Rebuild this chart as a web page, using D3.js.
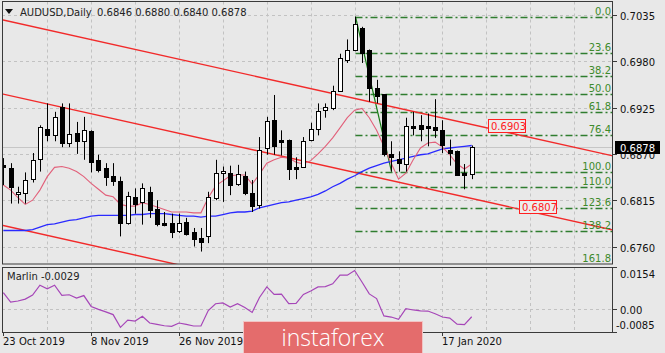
<!DOCTYPE html>
<html><head><meta charset="utf-8">
<script src="https://cdn.jsdelivr.net/npm/d3@7"></script>
<style>
html,body{margin:0;padding:0;background:#e8e8e8;}
svg{display:block;font-family:"DejaVu Sans",sans-serif;}
</style></head><body>
<svg id="c" width="665" height="353"></svg>
<script>
const dates = ["2019-10-23","2019-10-24","2019-10-25","2019-10-28","2019-10-29","2019-10-30","2019-10-31","2019-11-01","2019-11-04","2019-11-05","2019-11-06","2019-11-07","2019-11-08","2019-11-11","2019-11-12","2019-11-13","2019-11-14","2019-11-15","2019-11-18","2019-11-19","2019-11-20","2019-11-21","2019-11-22","2019-11-25","2019-11-26","2019-11-27","2019-11-28","2019-11-29","2019-12-02","2019-12-03","2019-12-04","2019-12-05","2019-12-06","2019-12-09","2019-12-10","2019-12-11","2019-12-12","2019-12-13","2019-12-16","2019-12-17","2019-12-18","2019-12-19","2019-12-20","2019-12-23","2019-12-24","2019-12-26","2019-12-27","2019-12-30","2019-12-31","2020-01-02","2020-01-03","2020-01-06","2020-01-07","2020-01-08","2020-01-09","2020-01-10","2020-01-13","2020-01-14","2020-01-15","2020-01-16","2020-01-17","2020-01-20","2020-01-21","2020-01-22","2020-01-23"];
const open  = [0.6857,0.6853,0.6822,0.6824,0.6840,0.6864,0.6900,0.6892,0.6926,0.6883,0.6895,0.6885,0.6897,0.6863,0.6853,0.6844,0.6838,0.6788,0.6819,0.6813,0.6825,0.6805,0.6788,0.6788,0.6778,0.6789,0.6777,0.6770,0.6772,0.6818,0.6847,0.6847,0.6834,0.6844,0.6824,0.6809,0.6877,0.6910,0.6887,0.6886,0.6854,0.6855,0.6887,0.6899,0.6922,0.6924,0.6945,0.6982,0.6993,0.7020,0.6993,0.6948,0.6941,0.6870,0.6864,0.6858,0.6903,0.6904,0.6903,0.6902,0.6898,0.6875,0.6873,0.6847,0.6846];
const high  = [0.6865,0.6859,0.6831,0.6848,0.6871,0.6904,0.6930,0.6920,0.6930,0.6930,0.6908,0.6914,0.6898,0.6869,0.6859,0.6859,0.6843,0.6825,0.6829,0.6835,0.6831,0.6815,0.6801,0.6799,0.6799,0.6794,0.6782,0.6782,0.6825,0.6863,0.6855,0.6856,0.6857,0.6849,0.6839,0.6890,0.6914,0.6940,0.6898,0.6887,0.6866,0.6890,0.6907,0.6930,0.6930,0.6951,0.6989,0.7006,0.7033,0.7021,0.6994,0.6958,0.6941,0.6885,0.6873,0.6913,0.6920,0.6916,0.6918,0.6935,0.6910,0.6887,0.6874,0.6858,0.6880];
const low   = [0.6833,0.6811,0.6811,0.6811,0.6836,0.6849,0.6885,0.6885,0.6878,0.6878,0.6870,0.6863,0.6848,0.6848,0.6832,0.6832,0.6772,0.6786,0.6799,0.6786,0.6794,0.6784,0.6784,0.6770,0.6776,0.6773,0.6760,0.6754,0.6764,0.6815,0.6813,0.6821,0.6832,0.6821,0.6801,0.6805,0.6869,0.6869,0.6868,0.6839,0.6840,0.6854,0.6885,0.6892,0.6913,0.6922,0.6944,0.6978,0.6992,0.6978,0.6932,0.6930,0.6867,0.6849,0.6849,0.6849,0.6892,0.6885,0.6879,0.6889,0.6871,0.6856,0.6844,0.6828,0.6840];
const close = [0.6854,0.6831,0.6825,0.6839,0.6863,0.6902,0.6892,0.6914,0.6883,0.6894,0.6885,0.6898,0.6860,0.6851,0.6842,0.6838,0.6788,0.6820,0.6811,0.6829,0.6803,0.6787,0.6786,0.6777,0.6788,0.6775,0.6769,0.6765,0.6819,0.6847,0.6850,0.6833,0.6846,0.6823,0.6808,0.6875,0.6909,0.6879,0.6884,0.6852,0.6852,0.6885,0.6900,0.6921,0.6926,0.6945,0.6984,0.6993,0.7024,0.6990,0.6948,0.6939,0.6870,0.6866,0.6859,0.6903,0.6901,0.6900,0.6901,0.6898,0.6881,0.6871,0.6845,0.6845,0.6878];
const maSlow = [0.6779,0.6779,0.6779,0.6779,0.6780,0.6783,0.6786,0.6787,0.6789,0.6791,0.6792,0.6794,0.6796,0.6797,0.6797,0.6797,0.6797,0.6797,0.6798,0.6798,0.6799,0.6799,0.6799,0.6798,0.6797,0.6796,0.6796,0.6795,0.6796,0.6796,0.6798,0.6800,0.6801,0.6801,0.6802,0.6806,0.6808,0.6810,0.6812,0.6813,0.6815,0.6817,0.6819,0.6822,0.6826,0.6831,0.6835,0.6840,0.6844,0.6849,0.6853,0.6856,0.6859,0.6861,0.6863,0.6865,0.6867,0.6869,0.6870,0.6873,0.6876,0.6877,0.6878,0.6879,0.6880];
const maFast = [0.6833,0.6827,0.6818,0.6810,0.6815,0.6827,0.6843,0.6854,0.6855,0.6853,0.6849,0.6843,0.6835,0.6828,0.6821,0.6819,0.6810,0.6808,0.6808,0.6812,0.6810,0.6807,0.6804,0.6801,0.6801,0.6801,0.6800,0.6800,0.6818,0.6832,0.6838,0.6844,0.6845,0.6845,0.6834,0.6846,0.6859,0.6863,0.6866,0.6865,0.6860,0.6858,0.6862,0.6870,0.6879,0.6889,0.6901,0.6913,0.6922,0.6924,0.6913,0.6898,0.6879,0.6859,0.6840,0.6847,0.6863,0.6877,0.6883,0.6884,0.6878,0.6869,0.6858,0.6852,0.6858];
const marlin = [0.0060,0.0025,0.0029,0.0036,0.0051,0.0087,0.0074,0.0087,0.0050,0.0052,0.0040,0.0049,0.0009,-0.0002,-0.0011,-0.0021,-0.0068,-0.0041,-0.0045,-0.0027,-0.0052,-0.0057,-0.0062,-0.0064,-0.0052,-0.0057,-0.0063,-0.0063,-0.0006,0.0019,0.0022,0.0007,0.0019,0.0005,-0.0013,0.0042,0.0081,0.0053,0.0054,0.0019,0.0020,0.0053,0.0066,0.0081,0.0082,0.0092,0.0124,0.0124,0.0141,0.0099,0.0055,0.0038,-0.0026,-0.0030,-0.0038,0.0001,-0.0004,-0.0007,-0.0008,-0.0018,-0.0030,-0.0034,-0.0056,-0.0058,-0.0029];

const priceTicks = [0.7035,0.6980,0.6925,0.6870,0.6815,0.6760];
const marlinTicks = [0.0154,0.00,-0.0085];
const marlinTickLabels = ["0.0154","0.00","-0.0085"];
const dateTickIdx = [0,12,24,36,48,60];
const dateTickLabels = ["23 Oct 2019","8 Nov 2019","26 Nov 2019","","","17 Jan 2020"];
const fibLevels = [0.0,23.6,38.2,50.0,61.8,76.4,100.0,110.0,123.6,138.2,161.8];
const fibHighIdx = 48, fibHighVal = 0.7033, fibLowIdx = 53, fibLowVal = 0.6849;
const channelLines = [[0,0.7029,64,0.6905],[0,0.6941,64,0.6817],[0,0.6785,64,0.6660]];
const trendLabelIdx = [66.2,70.4];
const trendLabelVal = [0.6903,0.6807];
const lastPrice = 0.6878;
const symbol = "AUDUSD,Daily";
const indName = "Marlin";

const svg = d3.select("#c");
const L = 2, R = 613, T = 1.5, B = 264, IT = 267, IB = 332;
const x = d3.scaleLinear().domain([-0.18, 83.3]).range([L, R]);
const y = d3.scaleLinear().domain([0.7035, 0.6760]).range([15, 246.5]);
const ym = d3.scaleLinear().domain([0.0154, -0.0085]).range([IT, IB]);
const n = dates.length;
const idx = d3.range(n);
const px = i => Math.round(x(i)) + 0.5;

const defs = svg.append("defs");
defs.append("clipPath").attr("id","cm").append("rect").attr("x",L).attr("y",T).attr("width",R-L).attr("height",B-T);
defs.append("clipPath").attr("id","ci").append("rect").attr("x",L).attr("y",IT).attr("width",R-L).attr("height",IB-IT);

svg.append("rect").attr("width",665).attr("height",353).attr("fill","#e8e8e8");

const gm = svg.append("g").attr("clip-path","url(#cm)");
const gi = svg.append("g").attr("clip-path","url(#ci)");

// grids
const gridIdx = d3.range(6, 84, 6);
gridIdx.forEach(i => {
  [[T,B,gm],[IT,IB,gi]].forEach(([a,b,g]) => g.append("line").attr("x1",px(i)).attr("x2",px(i)).attr("y1",a).attr("y2",b)
    .attr("stroke","#c2c2c2").attr("stroke-dasharray","3,3"));
});
priceTicks.forEach(p => gm.append("line").attr("x1",L).attr("x2",R).attr("y1",Math.round(y(p))+0.5).attr("y2",Math.round(y(p))+0.5)
  .attr("stroke","#c2c2c2").attr("stroke-dasharray","3,3"));
gi.append("line").attr("x1",L).attr("x2",R).attr("y1",Math.round(ym(0))+0.5).attr("y2",Math.round(ym(0))+0.5)
  .attr("stroke","#c2c2c2").attr("stroke-dasharray","3,3");

// bid line
gm.append("line").attr("x1",L).attr("x2",R).attr("y1",Math.round(y(lastPrice))+0.5).attr("y2",Math.round(y(lastPrice))+0.5)
  .attr("stroke","#c6c6c6").attr("stroke-width",1);

// fibonacci
const fibRange = fibHighVal - fibLowVal;
fibLevels.forEach(l => {
  const v = fibHighVal - l/100*fibRange;
  const yy = Math.round(y(v)) + 0.5;
  gm.append("line").attr("x1",px(fibHighIdx)).attr("x2",R).attr("y1",yy).attr("y2",yy)
    .attr("stroke","#2f7d2f").attr("stroke-width",1.3).attr("stroke-dasharray","7,3,2,3");
  svg.append("text").attr("x",R-2).attr("y",Math.min(yy-3, 262)).attr("text-anchor","end")
    .attr("font-size",10).attr("fill","#3d8a2a").text(l.toFixed(1));
});
gm.append("line").attr("x1",px(fibHighIdx)).attr("y1",y(fibHighVal)).attr("x2",px(fibLowIdx)).attr("y2",y(fibLowVal))
  .attr("stroke","#137a13").attr("stroke-width",1.2);

// channel lines
const d0 = x.domain()[0], d1 = x.domain()[1];
channelLines.forEach(([i1,p1,i2,p2]) => {
  const f = i => p1 + (p2-p1)*(i-i1)/(i2-i1);
  gm.append("line").attr("x1",x(d0)).attr("y1",y(f(d0))).attr("x2",x(d1)).attr("y2",y(f(d1)))
    .attr("stroke","#f22a2a").attr("stroke-width",1.4);
});

// moving averages
gm.append("path").datum(idx).attr("fill","none").attr("stroke","#2a2aff").attr("stroke-width",1.3)
  .attr("d", d3.line().x(i=>x(i)).y(i=>y(maSlow[i])));
gm.append("path").datum(idx).attr("fill","none").attr("stroke","#e2607a").attr("stroke-width",1.1)
  .attr("d", d3.line().x(i=>x(i)).y(i=>y(maFast[i])));

// candles
idx.forEach(i => {
  const cx = px(i);
  gm.append("line").attr("x1",cx).attr("x2",cx).attr("y1",y(high[i])).attr("y2",y(low[i])).attr("stroke","#000").attr("stroke-width",1);
  const yo = y(open[i]), yc = y(close[i]);
  const top = Math.round(Math.min(yo,yc)) + 0.5, bot = Math.round(Math.max(yo,yc)) + 0.5;
  const bull = close[i] >= open[i];
  if (bot - top < 1.5) {
    gm.append("line").attr("x1",cx-2.5).attr("x2",cx+2.5).attr("y1",top).attr("y2",top).attr("stroke","#000").attr("stroke-width",2);
  } else {
    gm.append("rect").attr("x",cx-2).attr("y",top).attr("width",4).attr("height",bot-top)
      .attr("fill", bull ? "#fff" : "#000").attr("stroke","#000").attr("stroke-width",1);
  }
});

// trend line price labels
trendLabelIdx.forEach((ti,k) => {
  const v = trendLabelVal[k];
  const yy = Math.round(y(v));
  const xx = Math.round(x(ti));
  svg.append("rect").attr("x",xx+0.5).attr("y",yy-6.5).attr("width",37).attr("height",13)
    .attr("fill","#ececec").attr("stroke","#ff2020").attr("stroke-width",1);
  svg.append("text").attr("x",xx+3).attr("y",yy+4).attr("font-size",10).attr("fill","#ff2020").text(v.toFixed(4));
});

// marlin line
gi.append("path").datum(idx).attr("fill","none").attr("stroke","#a646b8").attr("stroke-width",1.2)
  .attr("d", d3.line().x(i=>x(i)).y(i=>ym(marlin[i])));

// frames
const frame = "#3a3a3a";
svg.append("rect").attr("x",L+0.5).attr("y",T).attr("width",R-L-1).attr("height",B-T).attr("fill","none").attr("stroke",frame);
svg.append("rect").attr("x",L+0.5).attr("y",IT+0.5).attr("width",R-L-1).attr("height",IB-IT).attr("fill","none").attr("stroke",frame);

// right axis (price)
priceTicks.forEach(p => {
  const yy = Math.round(y(p)) + 0.5;
  svg.append("line").attr("x1",R).attr("x2",R+4).attr("y1",yy).attr("y2",yy).attr("stroke",frame);
  svg.append("text").attr("x",620).attr("y",yy+4).attr("font-size",10).attr("fill","#111").text(p.toFixed(4));
});
// current price label
const yl = Math.round(y(lastPrice));
svg.append("rect").attr("x",615).attr("y",yl-6).attr("width",45).attr("height",13).attr("fill","#000");
svg.append("text").attr("x",620).attr("y",yl+4.5).attr("font-size",10).attr("fill","#fff").text(lastPrice.toFixed(4));

// right axis (indicator)
marlinTicks.forEach((v,k) => {
  const yy = Math.round(ym(v)) + 0.5;
  svg.append("line").attr("x1",R).attr("x2",R+4).attr("y1",yy).attr("y2",yy).attr("stroke",frame);
  const ty = k === 0 ? yy + 10 : (k === marlinTicks.length-1 ? yy - 4 : yy + 4);
  svg.append("text").attr("x", v < 0 ? 616 : 620).attr("y",ty).attr("font-size",10).attr("fill","#111").text(marlinTickLabels[k]);
});

// x axis
dateTickIdx.forEach((i,k) => {
  svg.append("line").attr("x1",px(i)).attr("x2",px(i)).attr("y1",IB).attr("y2",IB+4).attr("stroke",frame);
  if (dateTickLabels[k]) svg.append("text").attr("x",px(i)-0.5).attr("y",345).attr("font-size",10).attr("fill","#111").text(dateTickLabels[k]);
});

// header
svg.append("path").attr("d","M5,9 L13,9 L9,14 Z").attr("fill","#111");
svg.append("text").attr("x",20).attr("y",16).attr("font-size",10).attr("fill","#222").text(symbol);
svg.append("text").attr("x",97).attr("y",16).attr("font-size",10).attr("fill","#222")
  .text([open[n-1],high[n-1],low[n-1],close[n-1]].map(v=>v.toFixed(4)).join(" "));
svg.append("text").attr("x",7).attr("y",280).attr("font-size",10).attr("fill","#222")
  .text(indName + " " + marlin[n-1].toFixed(4));

// watermark
svg.append("rect").attr("x",243.5).attr("y",321.5).attr("width",179).attr("height",40)
  .attr("fill","#e46c6c").attr("stroke","#f2c4c4").attr("stroke-width",1);
svg.append("text").attr("x",333).attr("y",346).attr("text-anchor","middle").attr("font-family","'Open Sans',sans-serif")
  .attr("font-weight",300).attr("font-size",23).attr("fill","#fff").text("instaforex");
</script>
</body></html>
